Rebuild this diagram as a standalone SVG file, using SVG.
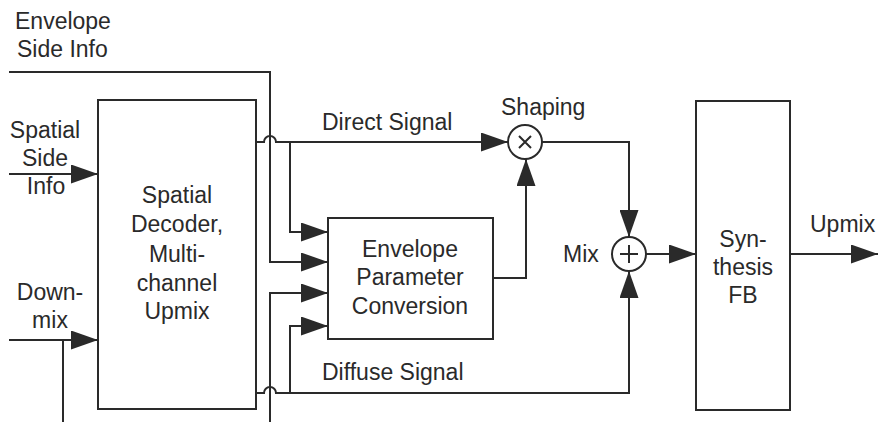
<svg xmlns="http://www.w3.org/2000/svg" width="878" height="422" viewBox="0 0 878 422">
<style>
text{font-family:"Liberation Sans",Arial,sans-serif;font-size:23px;fill:#2a2a2a}
.c{text-anchor:middle}
.box{fill:#fff;stroke:#2a2a2a;stroke-width:2}
.ln{fill:none;stroke:#2a2a2a;stroke-width:2}
.op{fill:#fff;stroke:#2a2a2a;stroke-width:2}
</style>
<defs>
<marker id="ah" viewBox="0 0 27 19" refX="27" refY="9.5" markerWidth="27" markerHeight="19" markerUnits="userSpaceOnUse" orient="auto">
<path d="M0,0 L27,9.5 L0,19 Z" fill="#2a2a2a"/>
</marker>
</defs>
<rect width="878" height="422" fill="#fff"/>
<g id="labels">
<text x="15" y="29">Envelope</text>
<text x="17" y="57">Side Info</text>
<text class="c" x="45" y="138">Spatial</text>
<text class="c" x="45" y="166">Side</text>
<text class="c" x="46" y="194">Info</text>
<text class="c" x="50" y="300">Down-</text>
<text class="c" x="50" y="328">mix</text>
<text x="322" y="130">Direct Signal</text>
<text x="322" y="380">Diffuse Signal</text>
<text x="501" y="115">Shaping</text>
<text x="563" y="262">Mix</text>
<text x="810" y="232">Upmix</text>
</g>
<g id="connectors">
<path class="ln" d="M9,72 H270 V262 H328" marker-end="url(#ah)"/>
<path class="ln" d="M9,174 H98" marker-end="url(#ah)"/>
<path class="ln" d="M9,340 H98" marker-end="url(#ah)"/>
<path class="ln" d="M63,340 V422"/>
<path class="ln" d="M270,422 V293 H328" marker-end="url(#ah)"/>
<path class="ln" d="M256,142 H264 A6,6 0 0 1 276,142 H508" marker-end="url(#ah)"/>
<path class="ln" d="M290,142 V232 H328" marker-end="url(#ah)"/>
<path class="ln" d="M256,393 H264 A6,6 0 0 1 276,393 H629 V271" marker-end="url(#ah)"/>
<path class="ln" d="M290,393 V326 H328" marker-end="url(#ah)"/>
<path class="ln" d="M493,278 H526 V159" marker-end="url(#ah)"/>
<path class="ln" d="M542,142 H629 V237" marker-end="url(#ah)"/>
<path class="ln" d="M646,254 H696" marker-end="url(#ah)"/>
<path class="ln" d="M790,254 H878" marker-end="url(#ah)"/>
</g>
<g id="decoder">
<rect class="box" x="98" y="100" width="158" height="309"/>
<text class="c" x="177" y="203">Spatial</text>
<text class="c" x="177" y="232">Decoder,</text>
<text class="c" x="177" y="262">Multi-</text>
<text class="c" x="177" y="291">channel</text>
<text class="c" x="177" y="319">Upmix</text>
</g>
<g id="envconv">
<rect class="box" x="328" y="218" width="165" height="121"/>
<text class="c" x="410" y="257">Envelope</text>
<text class="c" x="410" y="285">Parameter</text>
<text class="c" x="410" y="314">Conversion</text>
</g>
<g id="shaping">
<circle class="op" cx="525" cy="142" r="17"/>
<path class="ln" d="M519,136 L531,148 M531,136 L519,148"/>
</g>
<g id="mix">
<circle class="op" cx="629" cy="254" r="17"/>
<path class="ln" d="M629,245 V263 M620,254 H638"/>
</g>
<g id="synthesis">
<rect class="box" x="696" y="101" width="94" height="309"/>
<text class="c" x="743" y="247">Syn-</text>
<text class="c" x="743" y="275">thesis</text>
<text class="c" x="743" y="303">FB</text>
</g>
</svg>
